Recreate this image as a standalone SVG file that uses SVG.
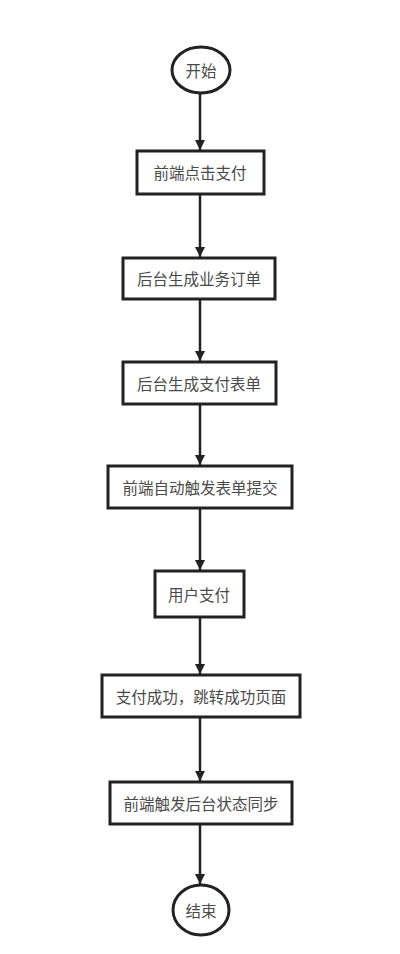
<svg xmlns="http://www.w3.org/2000/svg" width="400" height="954" viewBox="0 0 400 954">
<defs>
<marker id="arr" viewBox="0 0 10 10" refX="10" refY="5" markerWidth="4" markerHeight="4.4" orient="auto" markerUnits="strokeWidth">
<path d="M0,0 L10,5 L0,10 z" fill="#222"/>
</marker>
<style>
.n{fill:#fff;stroke:#222;stroke-width:3}
.t{font-family:"Noto Sans CJK SC","Liberation Sans",sans-serif;font-size:15.5px;fill:#4a4a4a;text-anchor:middle;dominant-baseline:central}
.c{stroke:#222;stroke-width:2.5;fill:none;marker-end:url(#arr)}
</style>
</defs>
<rect width="400" height="954" fill="#fff"/>
<g id="connectors">
<line class="c" x1="200" y1="94" x2="200" y2="150"/>
<line class="c" x1="200" y1="195" x2="200" y2="257"/>
<line class="c" x1="200" y1="299" x2="200" y2="361"/>
<line class="c" x1="200" y1="404" x2="200" y2="465"/>
<line class="c" x1="200" y1="509" x2="200" y2="570"/>
<line class="c" x1="200" y1="618" x2="200" y2="674"/>
<line class="c" x1="200" y1="718" x2="200" y2="781"/>
<line class="c" x1="200" y1="824" x2="200" y2="884"/>
</g>
<g id="start"><ellipse class="n" cx="201" cy="70" rx="29" ry="23"/><text class="t" x="201" y="70">开始</text></g>
<g id="n1"><rect class="n" x="137" y="151" width="127" height="43"/><text class="t" x="200" y="172">前端点击支付</text></g>
<g id="n2"><rect class="n" x="123" y="258" width="152" height="41"/><text class="t" x="199" y="278">后台生成业务订单</text></g>
<g id="n3"><rect class="n" x="123" y="362" width="153" height="42"/><text class="t" x="199" y="383">后台生成支付表单</text></g>
<g id="n4"><rect class="n" x="108" y="466" width="184" height="42"/><text class="t" x="200" y="487">前端自动触发表单提交</text></g>
<g id="n5"><rect class="n" x="155" y="571" width="89" height="46"/><text class="t" x="199" y="594">用户支付</text></g>
<g id="n6"><rect class="n" x="102" y="675" width="198" height="42"/><text class="t" x="201" y="696">支付成功，跳转成功页面</text></g>
<g id="n7"><rect class="n" x="110" y="782" width="182" height="42"/><text class="t" x="201" y="803">前端触发后台状态同步</text></g>
<g id="end"><ellipse class="n" cx="201" cy="910" rx="28" ry="25"/><text class="t" x="201" y="910">结束</text></g>
</svg>
